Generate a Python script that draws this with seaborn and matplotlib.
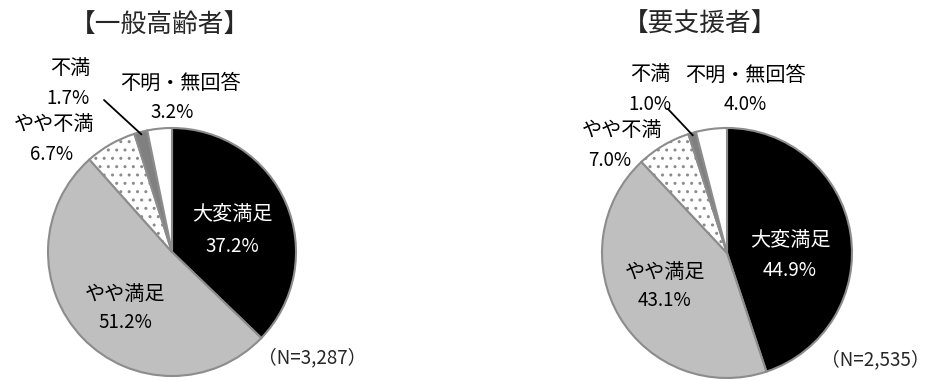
import numpy as np
import matplotlib
matplotlib.use("Agg")
import matplotlib.pyplot as plt
import seaborn as sns

sns.set_theme(style="white")
plt.rcParams['font.family'] = ['Noto Sans CJK JP', 'DejaVu Sans']
plt.rcParams['hatch.color'] = '#b0b0b0'
plt.rcParams['hatch.linewidth'] = 1.0

categories = ["大変満足", "やや満足", "やや不満", "不満", "不明・無回答"]
general_values = [37.2, 51.2, 6.7, 1.7, 3.2]
support_values = [44.9, 43.1, 7.0, 1.0, 4.0]
titles = ["【一般高齢者】", "【要支援者】"]
n_labels = ["（N=3,287）", "（N=2,535）"]

colors = ["#000000", "#bfbfbf", "#ffffff", "#808080", "#ffffff"]
hatches = [None, None, "..", None, None]

W, H = 928, 381
fig = plt.figure(figsize=(W / 100, H / 100), dpi=100)

def px_axes(cx, cy, r):
    return fig.add_axes([(cx - r) / W, (H - cy - r) / H, 2 * r / W, 2 * r / H])

# label positions (figure pixels) per chart: (x, y) for name and pct
label_pos = [
    {0: ((232, 215), (232, 247)), 1: ((125, 295), (125, 323)),
     2: ((54, 125), (52, 154)), 3: ((70, 69), (68, 98)),
     4: ((180, 83), (172, 112))},
    {0: ((790, 240), (790, 270)), 1: ((665, 272), (665, 301)),
     2: ((622, 130), (610, 160)), 3: ((650, 75), (650, 105)),
     4: ((745, 75), (745, 105))},
]
leader_start = [(104, 100), (668, 109)]
centers = [(172, 252, 124), (727, 253, 125)]
title_pos = [(160, 25), (700, 25)]
n_pos = [(312, 358), (875, 360)]

for i, vals in enumerate([general_values, support_values]):
    cx, cy, r = centers[i]
    ax = px_axes(cx, cy, r)
    wedges, _ = ax.pie(vals, colors=colors, startangle=90, counterclock=False,
                       radius=1.0,
                       wedgeprops=dict(edgecolor="#8c8c8c", linewidth=1.5))
    for w, h in zip(wedges, hatches):
        if h:
            w.set_hatch(h)
    ax.set_xlim(-1, 1)
    ax.set_ylim(-1, 1)
    ax.set_aspect("auto")
    ax.axis("off")

    for j, cat in enumerate(categories):
        (nx, ny), (px, py) = label_pos[i][j]
        col = "white" if j == 0 else "black"
        fig.text(nx / W, 1 - ny / H, cat, ha="center", va="center",
                 fontsize=14.5, color=col)
        fig.text(px / W, 1 - py / H, f"{vals[j]:.1f}%", ha="center", va="center",
                 fontsize=13.5, color=col)

    # leader line to the "不満" slice
    cum = sum(vals[:3]) + vals[3] / 2
    ang = np.deg2rad(90 - cum / sum(vals) * 360)
    tx, ty = np.cos(ang) * 0.98, np.sin(ang) * 0.98
    sx, sy = leader_start[i]
    ax.annotate("", xy=(tx, ty), xycoords="data",
                xytext=(sx / W, 1 - sy / H), textcoords="figure fraction",
                arrowprops=dict(arrowstyle="-", color="black", lw=1.3,
                                shrinkA=0, shrinkB=0))

    tx0, ty0 = title_pos[i]
    fig.text(tx0 / W, 1 - ty0 / H, titles[i], ha="center", va="center",
             fontsize=18.5)
    nx0, ny0 = n_pos[i]
    fig.text(nx0 / W, 1 - ny0 / H, n_labels[i], ha="center", va="center",
             fontsize=13.5)

fig.savefig("out.png", dpi=100, facecolor="white")
